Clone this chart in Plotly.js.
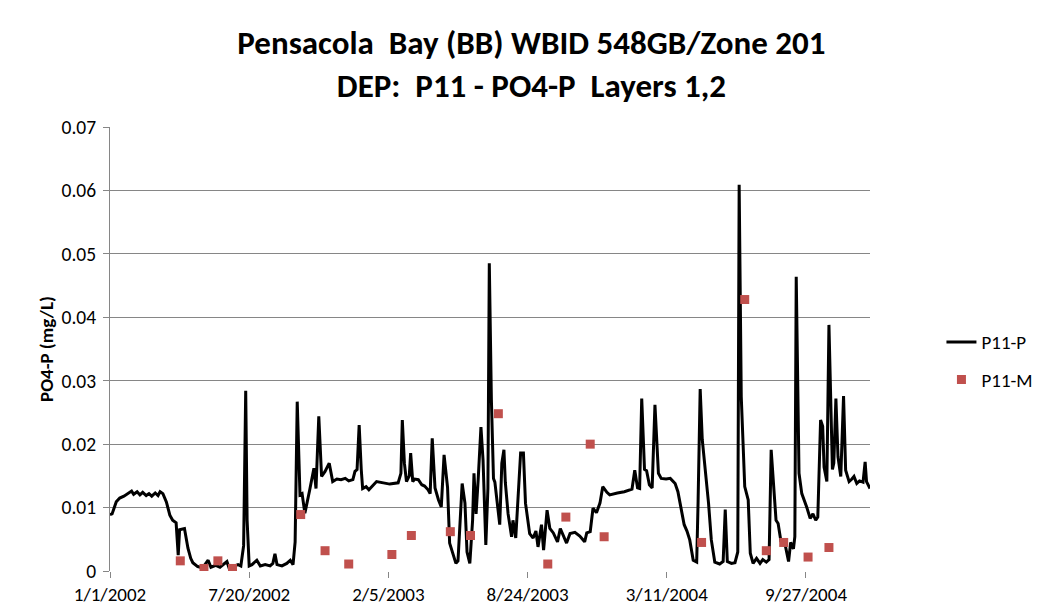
<!DOCTYPE html>
<html>
<head>
<meta charset="utf-8">
<script src="https://cdn.plot.ly/plotly-3.0.1.min.js"></script>
<style>
html,body{margin:0;padding:0;background:#fff;}
#chart{width:1042px;height:613px;}
</style>
</head>
<body>
<div id="chart"></div>
<script>
// P11-P model series (dates and PO4-P mg/L)
const modelDates = [
'2002-01-01','2002-01-04','2002-01-10','2002-01-15','2002-01-21','2002-01-27','2002-02-01','2002-02-04','2002-02-09','2002-02-13',
'2002-02-17','2002-02-22','2002-02-26','2002-03-02','2002-03-07','2002-03-11','2002-03-14','2002-03-18','2002-03-23','2002-03-28',
'2002-04-01','2002-04-06','2002-04-09','2002-04-11','2002-04-18','2002-04-23','2002-04-27','2002-04-30','2002-05-07','2002-05-14',
'2002-05-22','2002-05-26','2002-06-02','2002-06-08','2002-06-18','2002-06-21','2002-06-28','2002-07-04','2002-07-08','2002-07-12',
'2002-07-15','2002-07-17','2002-07-20','2002-07-24','2002-07-31','2002-08-05','2002-08-12','2002-08-19','2002-08-23','2002-08-26',
'2002-08-29','2002-09-05','2002-09-12','2002-09-17','2002-09-21','2002-09-24','2002-09-27','2002-10-01','2002-10-04','2002-10-08',
'2002-10-15','2002-10-21','2002-10-24','2002-10-28','2002-11-01','2002-11-06','2002-11-12','2002-11-17','2002-11-23','2002-11-29',
'2002-12-05','2002-12-10','2002-12-16','2002-12-19','2002-12-22','2002-12-25','2002-12-28','2002-12-30','2003-01-04','2003-01-08',
'2003-01-19','2003-01-28','2003-02-07','2003-02-19','2003-02-23','2003-02-25','2003-02-28','2003-03-03','2003-03-07','2003-03-09',
'2003-03-12','2003-03-15','2003-03-20','2003-03-25','2003-03-29','2003-04-03','2003-04-06','2003-04-09','2003-04-13','2003-04-18',
'2003-04-22','2003-04-26','2003-05-01','2003-05-04','2003-05-09','2003-05-13','2003-05-16','2003-05-20','2003-05-22','2003-05-26',
'2003-05-29','2003-06-02','2003-06-06','2003-06-08','2003-06-11','2003-06-14','2003-06-18','2003-06-21','2003-06-25','2003-06-28',
'2003-06-30','2003-07-03','2003-07-06','2003-07-08','2003-07-13','2003-07-15','2003-07-18','2003-07-21','2003-07-23','2003-07-27',
'2003-08-01','2003-08-03','2003-08-07','2003-08-10','2003-08-14','2003-08-18','2003-08-21','2003-08-27','2003-09-01','2003-09-05',
'2003-09-08','2003-09-13','2003-09-16','2003-09-21','2003-09-25','2003-09-30','2003-10-06','2003-10-10','2003-10-19','2003-10-24',
'2003-10-31','2003-11-07','2003-11-14','2003-11-17','2003-11-22','2003-11-26','2003-12-01','2003-12-06','2003-12-10','2003-12-16',
'2003-12-20','2003-12-31','2004-01-10','2004-01-21','2004-01-25','2004-01-29','2004-02-01','2004-02-04','2004-02-08','2004-02-11',
'2004-02-15','2004-02-19','2004-02-23','2004-02-28','2004-03-03','2004-03-10','2004-03-16','2004-03-23','2004-03-27','2004-04-01',
'2004-04-05','2004-04-09','2004-04-13','2004-04-18','2004-04-23','2004-04-25','2004-04-28','2004-05-01','2004-05-05','2004-05-10',
'2004-05-14','2004-05-19','2004-05-26','2004-05-31','2004-06-03','2004-06-06','2004-06-12','2004-06-17','2004-06-21','2004-06-23',
'2004-06-26','2004-07-01','2004-07-06','2004-07-09','2004-07-13','2004-07-18','2004-07-23','2004-07-27','2004-08-01','2004-08-05',
'2004-08-08','2004-08-11','2004-08-15','2004-08-18','2004-08-22','2004-08-28','2004-09-02','2004-09-05','2004-09-09','2004-09-11',
'2004-09-13','2004-09-17','2004-09-21','2004-09-28','2004-10-03','2004-10-07','2004-10-11','2004-10-14','2004-10-18','2004-10-21',
'2004-10-23','2004-10-27','2004-10-30','2004-11-04','2004-11-06','2004-11-09','2004-11-12','2004-11-16','2004-11-20','2004-11-23',
'2004-11-28','2004-12-02','2004-12-05','2004-12-09','2004-12-13','2004-12-18','2004-12-21','2004-12-23','2004-12-28'
];
const modelValues = [
0.0089,0.0090,0.0109,0.0115,0.0118,0.0122,0.0126,0.0121,0.0125,0.0120,
0.0124,0.0119,0.0122,0.0118,0.0123,0.0119,0.0125,0.0122,0.0109,0.0088,
0.0080,0.0076,0.0025,0.0065,0.0067,0.0036,0.0020,0.0013,0.0007,0.0005,
0.0017,0.0006,0.0009,0.0006,0.0015,0.0005,0.0008,0.0010,0.0008,0.0040,
0.0284,0.0080,0.0008,0.0010,0.0017,0.0008,0.0010,0.0008,0.0012,0.0027,
0.0010,0.0008,0.0012,0.0017,0.0010,0.0046,0.0267,0.0120,0.0122,0.0091,
0.0128,0.0162,0.0130,0.0244,0.0149,0.0157,0.0170,0.0141,0.0145,0.0144,
0.0146,0.0142,0.0144,0.0157,0.0160,0.0230,0.0160,0.0130,0.0133,0.0128,
0.0141,0.0139,0.0137,0.0139,0.0154,0.0238,0.0170,0.0141,0.0150,0.0186,
0.0141,0.0145,0.0144,0.0136,0.0134,0.0128,0.0122,0.0209,0.0131,0.0112,
0.0101,0.0183,0.0132,0.0044,0.0028,0.0012,0.0016,0.0091,0.0138,0.0107,
0.0030,0.0012,0.0080,0.0154,0.0090,0.0144,0.0227,0.0175,0.0041,0.0130,
0.0485,0.0270,0.0146,0.0140,0.0096,0.0073,0.0170,0.0191,0.0140,0.0090,
0.0054,0.0080,0.0052,0.0117,0.0186,0.0186,0.0107,0.0059,0.0052,0.0063,
0.0038,0.0073,0.0033,0.0096,0.0067,0.0060,0.0046,0.0067,0.0044,0.0059,
0.0061,0.0055,0.0046,0.0060,0.0062,0.0099,0.0092,0.0107,0.0133,0.0124,
0.0120,0.0123,0.0125,0.0129,0.0159,0.0131,0.0130,0.0272,0.0160,0.0158,
0.0136,0.0131,0.0262,0.0154,0.0146,0.0145,0.0146,0.0138,0.0125,0.0096,
0.0073,0.0063,0.0049,0.0017,0.0014,0.0110,0.0287,0.0207,0.0162,0.0107,
0.0049,0.0014,0.0011,0.0015,0.0097,0.0015,0.0012,0.0013,0.0030,0.0609,
0.0275,0.0133,0.0112,0.0028,0.0012,0.0020,0.0012,0.0018,0.0014,0.0018,
0.0191,0.0140,0.0080,0.0075,0.0047,0.0042,0.0015,0.0045,0.0035,0.0054,
0.0464,0.0154,0.0122,0.0101,0.0083,0.0090,0.0080,0.0085,0.0238,0.0228,
0.0164,0.0141,0.0388,0.0160,0.0170,0.0272,0.0180,0.0149,0.0276,0.0159,
0.0141,0.0145,0.0149,0.0138,0.0142,0.0140,0.0172,0.0141,0.0130
];

// P11-M measured series
const measDates = [
'2002-04-12','2002-05-16','2002-06-05','2002-06-26','2002-10-02','2002-11-06','2002-12-10',
'2003-02-10','2003-03-10','2003-05-05','2003-06-03','2003-07-13','2003-09-22','2003-10-18',
'2003-11-22','2003-12-12','2004-04-30','2004-07-01','2004-08-01','2004-08-26','2004-09-30','2004-10-30'
];
const measValues = [
0.0016,0.0004,0.0016,0.0004,0.0089,0.0032,0.0011,
0.0026,0.0056,0.0062,0.0056,0.0248,0.0011,0.0085,
0.0200,0.0054,0.0045,0.0428,0.0032,0.0045,0.0022,0.0037
];

// axis ticks
const xTickVals = ['2002-01-01','2002-07-20','2003-02-05','2003-08-24','2004-03-11','2004-09-27'];
const xTickText = ['1/1/2002','7/20/2002','2/5/2003','8/24/2003','3/11/2004','9/27/2004'];
const yTickVals = [0,0.01,0.02,0.03,0.04,0.05,0.06,0.07];
const yTickText = ['0','0.01','0.02','0.03','0.04','0.05','0.06','0.07'];

const titleLine1 = 'Pensacola  Bay (BB) WBID 548GB/Zone 201';
const titleLine2 = 'DEP:  P11 - PO4-P  Layers 1,2';

const FONT = "Carlito, Calibri, 'Liberation Sans Narrow', Roboto, sans-serif";

const traces = [
  {
    x: modelDates, y: modelValues, type: 'scatter', mode: 'lines', name: 'P11-P',
    legendgroup: 'p', line: {color: '#000000', width: 3}
  },
  {
    x: measDates, y: measValues, type: 'scatter', mode: 'markers', name: 'P11-M',
    legendgroup: 'm', marker: {symbol: 'square', size: 9, color: '#C0504D'}
  }
];

const layout = {
  width: 1042, height: 613,
  paper_bgcolor: '#ffffff', plot_bgcolor: '#ffffff',
  font: {family: FONT, color: '#000000'},
  margin: {l: 110, r: 172, t: 127, b: 42},
  title: {
    text: '<b>' + titleLine1 + '</b><br><b>' + titleLine2 + '</b>',
    font: {family: FONT, size: 33, color: '#000000'},
    x: 0.51, xanchor: 'center', xref: 'container',
    y: 0.9115, yanchor: 'top', yref: 'container'
  },
  xaxis: {
    type: 'date',
    range: ['2002-01-01', '2004-12-28'],
    tickmode: 'array', tickvals: xTickVals, ticktext: xTickText,
    showgrid: false, zeroline: false,
    showline: false,
    ticks: 'outside', ticklen: 6, tickcolor: '#868686', tickwidth: 1,
    ticklabelstandoff: 0,
    tickfont: {family: FONT, size: 19, color: '#000000'},
    automargin: false
  },
  yaxis: {
    range: [0, 0.07],
    tickmode: 'array', tickvals: yTickVals, ticktext: yTickText,
    showgrid: true, gridcolor: '#868686', gridwidth: 1,
    zeroline: false,
    showline: true, linecolor: '#868686', linewidth: 1,
    ticks: 'outside', ticklen: 6, tickcolor: '#868686',
    ticklabelstandoff: 3,
    tickfont: {family: FONT, size: 19.5, color: '#000000'},
    title: {text: '<b>' + 'PO4-P (mg/L)' + '</b>', font: {family: FONT, size: 19, color: '#000000'}, standoff: 2},
    automargin: false
  },
  legend: {
    xref: 'container', yref: 'container',
    x: 0.9035, xanchor: 'left', y: 0.473, yanchor: 'top',
    font: {family: FONT, size: 19, color: '#000000'},
    bgcolor: 'rgba(0,0,0,0)', tracegroupgap: 10
  },
  showlegend: true
};

Plotly.newPlot('chart', traces, layout, {displayModeBar: false, staticPlot: true});
</script>
</body>
</html>
